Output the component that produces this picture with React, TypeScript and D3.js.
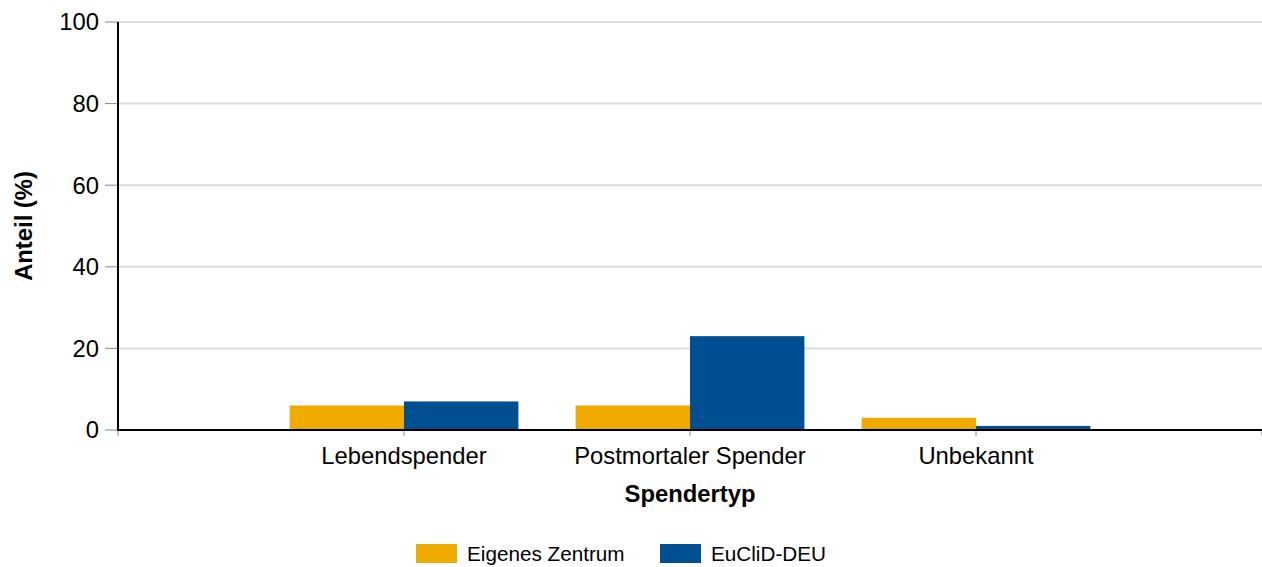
import React from "react";
import * as d3 from "d3";

const categories = ["Lebendspender", "Postmortaler Spender", "Unbekannt"];
const seriesNames = ["Eigenes Zentrum", "EuCliD-DEU"];
const eigenesZentrum = [6, 6, 3];
const euclid = [7, 23, 1];
const yTicks = [0, 20, 40, 60, 80, 100];
const colors = ["#F0AB00", "#004F93"];

const W = 1262;
const H = 567;
const left = 118;
const right = 1262;
const top = 22;
const bottom = 430;
const font = "'Liberation Sans', Arial, sans-serif";
const fs = 23.8;

export default function App() {
  const x = d3.scaleLinear().domain([0, categories.length + 1]).range([left, right]);
  const y = d3.scaleLinear().domain([0, 100]).range([bottom, top]);
  const step = x(1) - x(0);
  const groupW = step * 0.8;
  const inner = d3.scaleBand().domain(seriesNames).range([-groupW / 2, groupW / 2]).padding(0);
  const series = [eigenesZentrum, euclid];
  const xTicks = d3.range(0, categories.length + 2);

  return (
    <svg width={W} height={H} style={{ position: "absolute", left: 0, top: 0, fontFamily: font }}>
      {yTicks.map((t) => (
        <g key={t}>
          {t > 0 && <line x1={left} x2={right} y1={y(t)} y2={y(t)} stroke="#dcdcdc" strokeWidth={2} />}
          <line x1={left - 13} x2={left} y1={y(t)} y2={y(t)} stroke="#888" strokeWidth={1} />
          <text x={left - 19} y={y(t)} dy="0.35em" textAnchor="end" fontSize={fs} fill="#000">{t}</text>
        </g>
      ))}
      {xTicks.map((t) => (
        <line key={t} x1={x(t)} x2={x(t)} y1={bottom} y2={bottom + 6} stroke="#888" strokeWidth={1} />
      ))}
      {categories.map((c, i) => (
        <g key={c}>
          {series.map((s, j) => (
            <rect
              key={j}
              x={x(i + 1) + (inner(seriesNames[j]) as number)}
              y={y(s[i])}
              width={inner.bandwidth()}
              height={y(0) - y(s[i])}
              fill={colors[j]}
            />
          ))}
          <text x={x(i + 1)} y={464} textAnchor="middle" fontSize={fs} fill="#000">{c}</text>
        </g>
      ))}
      <line x1={left} x2={left} y1={top} y2={bottom + 1} stroke="#000" strokeWidth={2} />
      <line x1={left} x2={right} y1={bottom} y2={bottom} stroke="#000" strokeWidth={2} />
      <text x={(left + right) / 2} y={502} textAnchor="middle" fontSize={fs} fontWeight="bold" fill="#000">Spendertyp</text>
      <text transform={`translate(32, ${(top + bottom) / 2}) rotate(-90)`} textAnchor="middle" fontSize={fs} fontWeight="bold" fill="#000">Anteil (%)</text>
      {seriesNames.map((n, j) => {
        const lx = j === 0 ? 416 : 660;
        return (
          <g key={n}>
            <rect x={lx} y={544} width={41} height={19} fill={colors[j]} />
            <text x={lx + 51} y={553.5} dy="0.35em" fontSize={20.7} fill="#000">{n}</text>
          </g>
        );
      })}
    </svg>
  );
}
